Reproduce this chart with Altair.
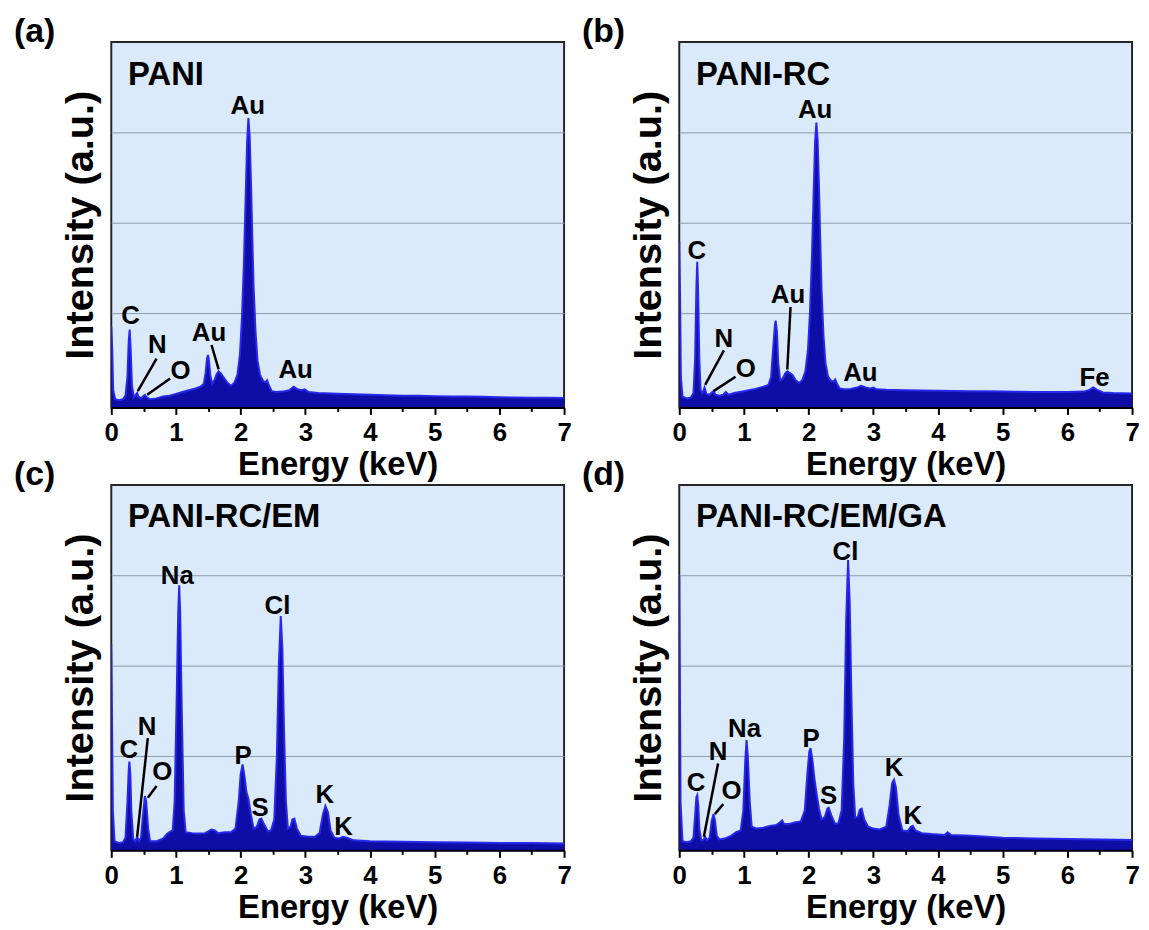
import altair as alt
import pandas as pd

FONT = "Liberation Sans"
FILL = "#0e0ea6"
LINE = "#2828ec"

panel_names = ["PANI", "PANI-RC", "PANI-RC/EM", "PANI-RC/EM/GA"]
panel_letters = ["(a)", "(b)", "(c)", "(d)"]
name_E = 0.26
name_I = 3.53

# ---------------- (a) PANI ----------------
a_E = [0.000, 0.015, 0.03, 0.06, 0.12, 0.18, 0.22, 0.25, 0.27, 0.285, 0.30, 0.32, 0.35,
       0.38, 0.40, 0.42, 0.46, 0.50, 0.52, 0.55, 0.60, 0.70, 0.80, 0.90, 1.00, 1.10,
       1.20, 1.30, 1.38, 1.43, 1.46, 1.48, 1.495, 1.51, 1.53, 1.56, 1.60, 1.63, 1.66,
       1.70, 1.75, 1.80, 1.85, 1.90, 1.95, 1.99, 2.02, 2.05, 2.08, 2.10, 2.12, 2.14,
       2.16, 2.18, 2.20, 2.23, 2.26, 2.30, 2.35, 2.39, 2.41, 2.44, 2.48, 2.55, 2.65,
       2.75, 2.82, 2.88, 2.94, 2.99, 3.05, 3.20, 3.50, 3.75, 4.00, 4.25, 4.50, 4.75,
       5.00, 5.25, 5.50, 5.75, 6.00, 6.25, 6.50, 6.75, 7.00]
a_I = [0.86, 0.60, 0.15, 0.05, 0.04, 0.05, 0.09, 0.30, 0.70, 0.82, 0.60, 0.20, 0.07,
       0.10, 0.12, 0.08, 0.06, 0.09, 0.10, 0.07, 0.05, 0.06, 0.08, 0.09, 0.11, 0.13,
       0.15, 0.17, 0.19, 0.22, 0.35, 0.50, 0.54, 0.48, 0.32, 0.22, 0.27, 0.33, 0.36,
       0.33, 0.28, 0.23, 0.20, 0.23, 0.32, 0.55, 0.95, 1.55, 2.35, 2.90, 3.16, 2.95,
       2.45, 1.85, 1.30, 0.80, 0.48, 0.32, 0.25, 0.24, 0.26, 0.20, 0.14, 0.13, 0.135,
       0.15, 0.19, 0.16, 0.15, 0.16, 0.13, 0.12, 0.11, 0.105, 0.10, 0.095, 0.09, 0.088,
       0.085, 0.082, 0.08, 0.077, 0.072, 0.07, 0.068, 0.067, 0.065]
a_lab = ["C", "N", "O", "Au", "Au", "Au"]
a_lab_E = [0.30, 0.71, 1.07, 1.51, 2.11, 2.85]
a_lab_I = [0.88, 0.56, 0.27, 0.69, 3.20, 0.29]
a_ln_E = [0.41, 0.555, 1.55]
a_ln_I = [0.14, 0.10, 0.65]
a_ln_E2 = [0.70, 0.91, 1.66]
a_ln_I2 = [0.50, 0.28, 0.38]

# ---------------- (b) PANI-RC ----------------
b_E = [0.000, 0.012, 0.025, 0.05, 0.12, 0.18, 0.22, 0.245, 0.265, 0.278, 0.29, 0.31,
       0.33, 0.36, 0.39, 0.42, 0.47, 0.51, 0.53, 0.56, 0.62, 0.68, 0.72, 0.76, 0.85,
       1.00, 1.15, 1.30, 1.38, 1.42, 1.45, 1.48, 1.49, 1.51, 1.53, 1.56, 1.60, 1.64,
       1.67, 1.71, 1.75, 1.80, 1.85, 1.90, 1.95, 1.99, 2.02, 2.05, 2.08, 2.10, 2.12,
       2.14, 2.16, 2.18, 2.20, 2.23, 2.26, 2.30, 2.35, 2.39, 2.41, 2.44, 2.48, 2.55,
       2.65, 2.75, 2.81, 2.88, 2.95, 3.00, 3.05, 3.20, 3.50, 3.75, 4.00, 4.25, 4.50,
       4.75, 5.00, 5.25, 5.50, 5.75, 6.00, 6.25, 6.33, 6.40, 6.47, 6.55, 6.70, 6.85, 7.00]
b_I = [1.80, 1.20, 0.30, 0.08, 0.06, 0.07, 0.12, 0.50, 1.30, 1.57, 1.30, 0.50, 0.15,
       0.12, 0.18, 0.11, 0.10, 0.13, 0.14, 0.10, 0.09, 0.10, 0.13, 0.10, 0.12, 0.14,
       0.16, 0.19, 0.21, 0.30, 0.60, 0.88, 0.92, 0.80, 0.45, 0.26, 0.28, 0.34, 0.36,
       0.34, 0.32, 0.26, 0.23, 0.26, 0.36, 0.60, 1.00, 1.60, 2.40, 2.90, 3.11, 2.90,
       2.40, 1.80, 1.25, 0.75, 0.45, 0.30, 0.25, 0.25, 0.27, 0.22, 0.17, 0.16, 0.165,
       0.18, 0.20, 0.18, 0.17, 0.18, 0.16, 0.155, 0.15, 0.148, 0.145, 0.142, 0.14,
       0.138, 0.135, 0.133, 0.13, 0.13, 0.13, 0.135, 0.15, 0.18, 0.15, 0.125, 0.12,
       0.118, 0.115]
b_lab = ["C", "N", "O", "Au", "Au", "Au", "Fe"]
b_lab_E = [0.27, 0.69, 1.03, 1.68, 2.10, 2.80, 6.42]
b_lab_I = [1.60, 0.63, 0.30, 1.12, 3.16, 0.25, 0.20]
b_ln_E = [0.40, 0.53, 1.72]
b_ln_I = [0.21, 0.14, 1.07]
b_ln_E2 = [0.69, 0.87, 1.67]
b_ln_I2 = [0.59, 0.30, 0.38]

# ---------------- (c) PANI-RC/EM ----------------
c_E = [0.000, 0.01, 0.025, 0.05, 0.12, 0.18, 0.22, 0.25, 0.27, 0.28, 0.295, 0.31, 0.34,
       0.37, 0.40, 0.43, 0.46, 0.49, 0.52, 0.54, 0.57, 0.60, 0.70, 0.80, 0.86, 0.90,
       0.95, 0.98, 1.01, 1.035, 1.05, 1.065, 1.09, 1.12, 1.15, 1.25, 1.35, 1.45, 1.55,
       1.60, 1.65, 1.75, 1.85, 1.92, 1.97, 2.00, 2.03, 2.06, 2.09, 2.12, 2.16, 2.20,
       2.25, 2.29, 2.32, 2.36, 2.42, 2.47, 2.52, 2.56, 2.59, 2.62, 2.645, 2.67, 2.70,
       2.73, 2.77, 2.80, 2.83, 2.87, 2.93, 3.05, 3.15, 3.22, 3.27, 3.31, 3.35, 3.39,
       3.45, 3.52, 3.58, 3.64, 3.75, 4.00, 4.50, 5.00, 5.50, 6.00, 6.50, 7.00]
c_I = [2.24, 1.50, 0.40, 0.06, 0.04, 0.05, 0.10, 0.50, 0.85, 0.94, 0.80, 0.40, 0.08,
       0.06, 0.11, 0.06, 0.10, 0.35, 0.56, 0.50, 0.20, 0.06, 0.06, 0.09, 0.14, 0.16,
       0.18, 0.50, 1.60, 2.60, 2.89, 2.60, 1.50, 0.40, 0.16, 0.15, 0.145, 0.15, 0.19,
       0.18, 0.15, 0.16, 0.16, 0.20, 0.50, 0.80, 0.91, 0.78, 0.60, 0.53, 0.35, 0.20,
       0.22, 0.30, 0.31, 0.25, 0.17, 0.18, 0.30, 1.00, 2.00, 2.55, 2.20, 1.30, 0.50,
       0.20, 0.22, 0.30, 0.31, 0.20, 0.12, 0.11, 0.11, 0.15, 0.35, 0.45, 0.38, 0.18,
       0.10, 0.09, 0.11, 0.10, 0.07, 0.06, 0.055, 0.05, 0.045, 0.04, 0.04, 0.035]
c_lab = ["C", "N", "O", "Na", "P", "S", "Cl", "K", "K"]
c_lab_E = [0.27, 0.555, 0.79, 1.02, 2.04, 2.30, 2.57, 3.30, 3.59]
c_lab_I = [0.98, 1.23, 0.74, 2.90, 0.91, 0.34, 2.57, 0.48, 0.13]
c_ln_E = [0.565, 0.70]
c_ln_I = [1.20, 0.67]
c_ln_E2 = [0.40, 0.565]
c_ln_I2 = [0.11, 0.54]

# ---------------- (d) PANI-RC/EM/GA ----------------
d_E = [0.000, 0.008, 0.02, 0.05, 0.12, 0.18, 0.22, 0.25, 0.265, 0.278, 0.295, 0.31,
       0.34, 0.37, 0.40, 0.43, 0.47, 0.50, 0.53, 0.55, 0.58, 0.62, 0.70, 0.80, 0.88,
       0.95, 0.99, 1.02, 1.04, 1.06, 1.09, 1.12, 1.20, 1.30, 1.40, 1.50, 1.56, 1.59,
       1.62, 1.70, 1.80, 1.88, 1.94, 1.98, 2.01, 2.03, 2.06, 2.09, 2.12, 2.16, 2.20,
       2.25, 2.29, 2.31, 2.35, 2.41, 2.46, 2.51, 2.55, 2.58, 2.61, 2.635, 2.66, 2.69,
       2.72, 2.76, 2.79, 2.82, 2.86, 2.92, 3.00, 3.10, 3.20, 3.25, 3.29, 3.32, 3.35,
       3.39, 3.45, 3.53, 3.58, 3.61, 3.65, 3.75, 3.90, 4.10, 4.15, 4.20, 4.50, 5.00,
       5.50, 6.00, 6.50, 7.00]
d_I = [3.00, 2.00, 0.50, 0.06, 0.05, 0.06, 0.10, 0.40, 0.55, 0.57, 0.45, 0.20, 0.07,
       0.07, 0.11, 0.07, 0.10, 0.28, 0.36, 0.30, 0.12, 0.08, 0.09, 0.12, 0.16, 0.18,
       0.40, 0.95, 1.18, 1.00, 0.50, 0.22, 0.20, 0.21, 0.23, 0.24, 0.27, 0.29, 0.25,
       0.25, 0.27, 0.28, 0.40, 0.80, 1.05, 1.09, 0.95, 0.75, 0.60, 0.42, 0.30, 0.33,
       0.42, 0.43, 0.35, 0.25, 0.26, 0.40, 1.20, 2.50, 3.17, 2.70, 1.70, 0.70, 0.32,
       0.33, 0.41, 0.42, 0.30, 0.22, 0.20, 0.19, 0.22, 0.45, 0.70, 0.74, 0.65, 0.35,
       0.18, 0.17, 0.22, 0.23, 0.18, 0.15, 0.14, 0.13, 0.16, 0.13, 0.12, 0.10, 0.09,
       0.085, 0.08, 0.075]
d_lab = ["C", "N", "O", "Na", "P", "S", "Cl", "K", "K"]
d_lab_E = [0.26, 0.60, 0.81, 1.01, 2.04, 2.31, 2.57, 3.32, 3.61]
d_lab_I = [0.62, 0.96, 0.53, 1.21, 1.10, 0.47, 3.17, 0.78, 0.25]
d_ln_E = [0.60, 0.68]
d_ln_I = [0.92, 0.47]
d_ln_E2 = [0.38, 0.55]
d_ln_I2 = [0.11, 0.36]

x_tick_values = [0, 0.5, 1, 1.5, 2, 2.5, 3, 3.5, 4, 4.5, 5, 5.5, 6, 6.5, 7]
y_grid_values = [1, 2, 3]
x_domain = [0, 7]
y_domain = [-0.04, 4]

x_axis = alt.Axis(
    values=x_tick_values,
    labelExpr="datum.value % 1 === 0 ? format(datum.value, 'd') : ''",
    tickSize={"condition": {"test": "datum.value % 1 === 0", "value": 7}, "value": 4},
    tickWidth=2, tickColor="black", domainColor="black", domainWidth=2,
    labelFontSize=26, labelFontWeight="bold", labelColor="black", labelPadding=5,
    labelFont=FONT, labelOverlap=False, labelFlush=False,
    title="Energy (keV)", titleFontSize=33, titleFontWeight="bold", titleFont=FONT,
    titleColor="black", titlePadding=4, grid=False, zindex=1,
)
y_axis = alt.Axis(
    values=y_grid_values, labels=False, ticks=False, domain=False, grid=True,
    gridColor="#8a9aab", gridWidth=1,
    title="Intensity (a.u.)", titleFontSize=40, titleFontWeight="bold", titleFont=FONT,
    titleColor="black", titlePadding=11,
)


def panel(E, I, labs, lab_E, lab_I, ln_E, ln_I, ln_E2, ln_I2, name, letter):
    xenc = alt.X("E:Q", scale=alt.Scale(domain=x_domain, nice=False, zero=False), axis=x_axis)
    yenc = alt.Y("I:Q", scale=alt.Scale(domain=y_domain, nice=False, zero=False), axis=y_axis)
    spec = pd.DataFrame({"E": E, "I": I})
    area = alt.Chart(spec).mark_area(color=FILL, clip=True).encode(
        x=xenc, y=yenc, y2=alt.datum(y_domain[0]))
    line = alt.Chart(spec).mark_line(color=LINE, strokeWidth=2, clip=True).encode(
        x=xenc, y=yenc)
    leads = alt.Chart(pd.DataFrame({"E": ln_E, "I": ln_I, "E2": ln_E2, "I2": ln_I2})).mark_rule(
        color="black", strokeWidth=2.5).encode(x=xenc, y=yenc, x2="E2:Q", y2="I2:Q")
    labels = alt.Chart(pd.DataFrame({"E": lab_E, "I": lab_I, "t": labs})).mark_text(
        align="center", baseline="alphabetic", fontSize=26, fontWeight="bold",
        font=FONT, color="black").encode(x=xenc, y=yenc, text="t:N")
    nm = alt.Chart(pd.DataFrame({"E": [name_E], "I": [name_I], "t": [name]})).mark_text(
        align="left", baseline="alphabetic", fontSize=33, fontWeight="bold",
        font=FONT, color="black").encode(x=xenc, y=yenc, text="t:N")
    return alt.layer(area, line, leads, labels, nm).properties(
        width=456, height=368,
        title=alt.TitleParams(letter, anchor="start", frame="group", orient="top",
                              dx=-98, dy=3, offset=-31, baseline="alphabetic",
                              fontSize=34, fontWeight="bold", font=FONT, color="black"),
    )


pa = panel(a_E, a_I, a_lab, a_lab_E, a_lab_I, a_ln_E, a_ln_I, a_ln_E2, a_ln_I2,
           panel_names[0], panel_letters[0])
pb = panel(b_E, b_I, b_lab, b_lab_E, b_lab_I, b_ln_E, b_ln_I, b_ln_E2, b_ln_I2,
           panel_names[1], panel_letters[1])
pc = panel(c_E, c_I, c_lab, c_lab_E, c_lab_I, c_ln_E, c_ln_I, c_ln_E2, c_ln_I2,
           panel_names[2], panel_letters[2])
pdd = panel(d_E, d_I, d_lab, d_lab_E, d_lab_I, d_ln_E, d_ln_I, d_ln_E2, d_ln_I2,
            panel_names[3], panel_letters[3])

chart = alt.concat(pa, pb, pc, pdd, columns=2, spacing={"row": 78, "column": 116},
                   bounds="flush").properties(
    padding={"left": 5, "top": 3, "right": 0, "bottom": 0}
).configure(font=FONT).configure_view(stroke="#262626", strokeWidth=2, fill="#dbeafa")

chart.save("out.html", embed_options={"renderer": "svg", "actions": False})
